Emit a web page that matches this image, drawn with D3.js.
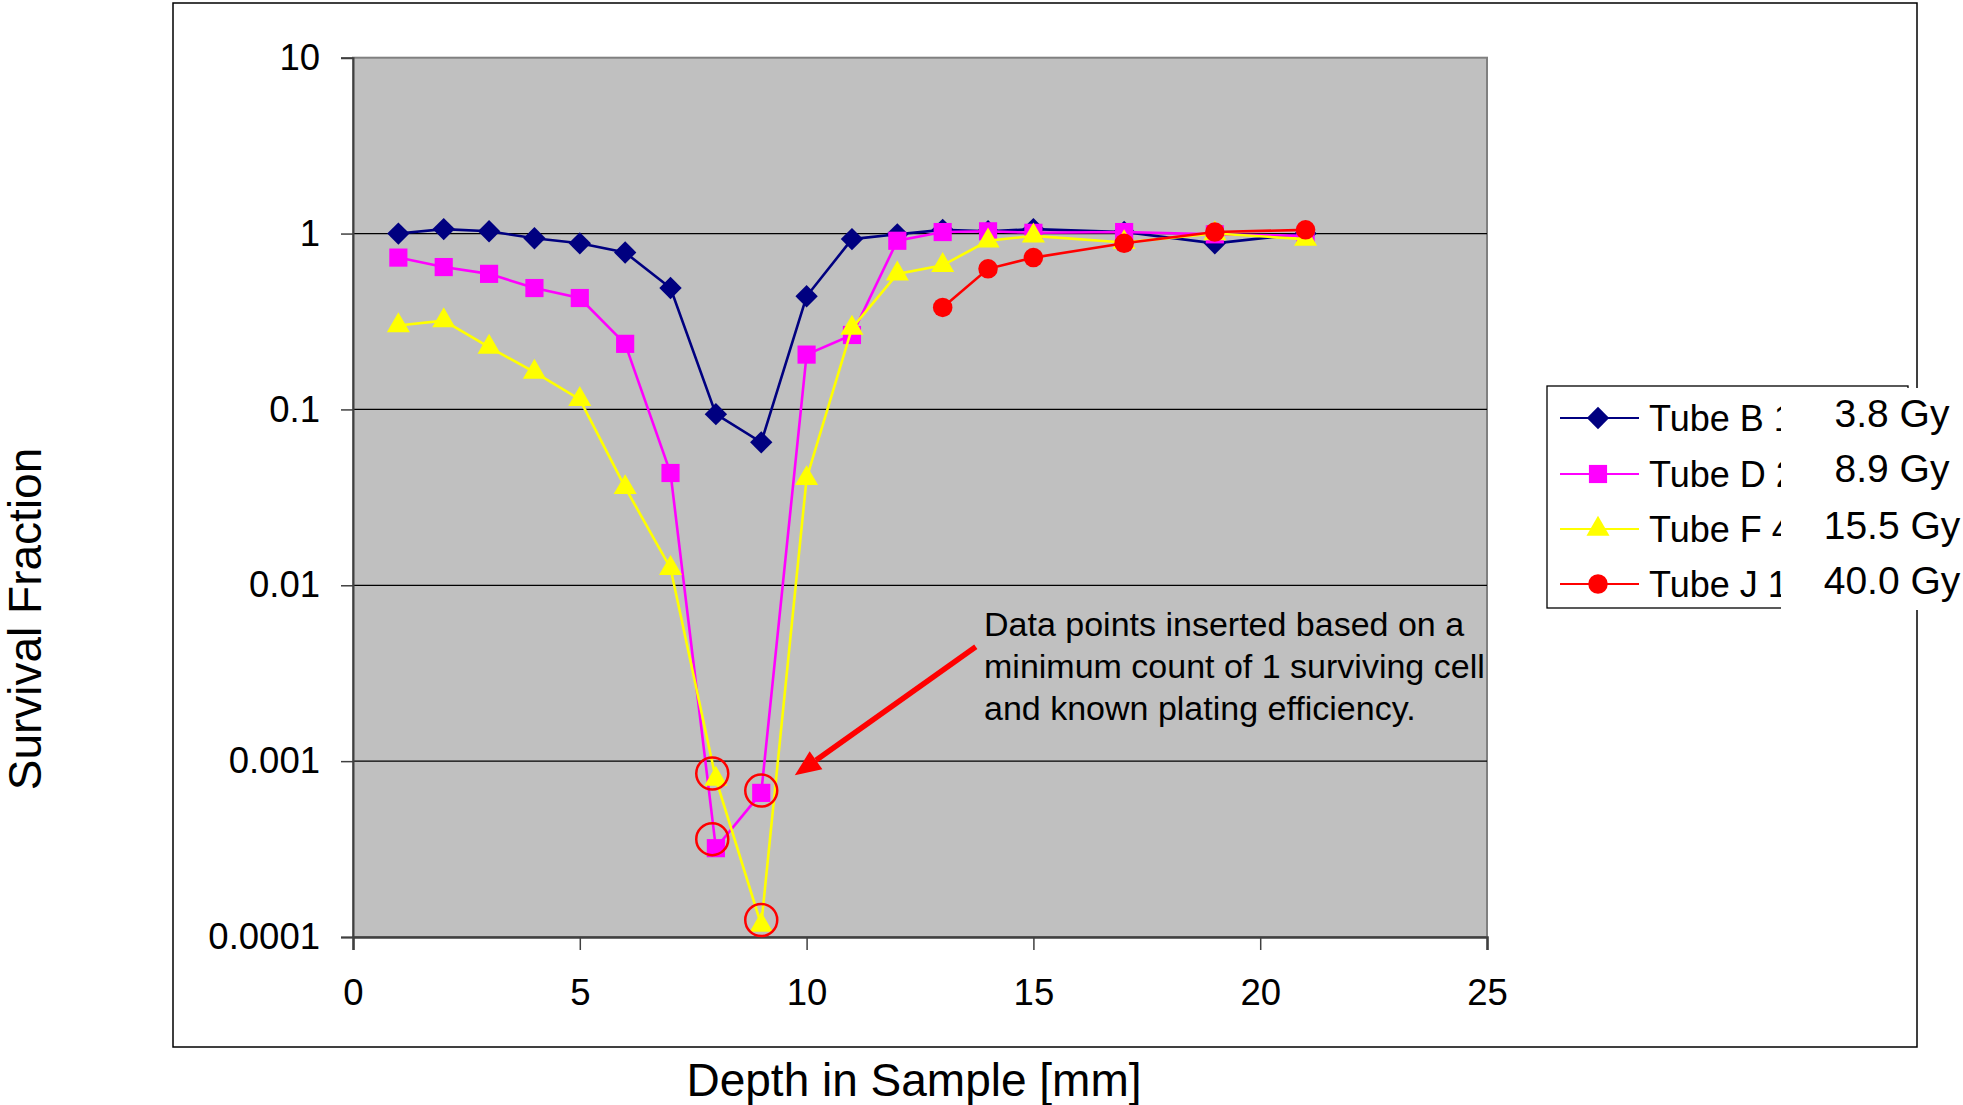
<!DOCTYPE html>
<html>
<head>
<meta charset="utf-8">
<script src="https://cdn.jsdelivr.net/npm/d3@7"></script>
<style>
  body { margin: 0; background: #fff; }
  text { font-family: "Liberation Sans", Arial, sans-serif; fill: #000; }
</style>
</head>
<body>
<script>
// depths (mm) and survival fractions
var depths = [1, 2, 3, 4, 5, 6, 7, 8, 9, 10, 11, 12, 13, 14, 15, 17, 19, 21];
var tubeB = [1.0, 1.06, 1.03, 0.94, 0.88, 0.78, 0.49, 0.094, 0.065, 0.44, 0.93, 0.99, 1.05, 1.03, 1.06, 1.02, 0.88, 1.0];
var tubeD = [0.73, 0.645, 0.59, 0.49, 0.43, 0.236, 0.0435, 0.00032, 0.00066, 0.205, 0.265, 0.91, 1.02, 1.03, 1.01, 1.02, 0.99, 0.97];
var tubeF = [0.30, 0.32, 0.226, 0.163, 0.114, 0.036, 0.0125, 0.00079, 0.000117, 0.0405, 0.29, 0.59, 0.66, 0.91, 0.97, 0.89, 1.0, 0.93];
var depthsJ = [13, 14, 15, 17, 19, 21];
var tubeJ = [0.38, 0.63, 0.73, 0.88, 1.02, 1.05];

var seriesNames = ["Tube B 1", "Tube D 2", "Tube F 4", "Tube J 1"];
var doseLabels = ["3.8 Gy", "8.9 Gy", "15.5 Gy", "40.0 Gy"];
var colors = ["#000080", "#ff00ff", "#ffff00", "#ff0000"];

var xTicks = [0, 5, 10, 15, 20, 25];
var yTicks = [0.0001, 0.001, 0.01, 0.1, 1, 10];
var yTickLabels = ["0.0001", "0.001", "0.01", "0.1", "1", "10"];

// points flagged as inserted (minimum count of 1 surviving cell)
var insertedX = [7.92, 7.92, 9, 9];
var insertedY = [0.00036, 0.00085, 0.00068, 0.000125];

var series = [
  { name: seriesNames[0], x: depths, y: tubeB },
  { name: seriesNames[1], x: depths, y: tubeD },
  { name: seriesNames[2], x: depths, y: tubeF },
  { name: seriesNames[3], x: depthsJ, y: tubeJ }
];

var W = 1963, H = 1105;
var pLeft = 353, pRight = 1487, pTop = 57.7, pBottom = 937;

// marker shapes: diamond = rotated square
var markers = [
  { type: d3.symbolSquare, size: 250, rot: 45 },
  { type: d3.symbolSquare, size: 330, rot: 0 },
  { type: d3.symbolTriangle, size: 230, rot: 0 },
  { type: d3.symbolCircle, size: 300, rot: 0 }
];

var svg = d3.select("body").append("svg")
  .attr("width", W)
  .attr("height", H);

var x = d3.scaleLinear().domain([0, 25]).range([pLeft, pRight]);
var y = d3.scaleLog().domain([0.0001, 10]).range([pBottom, pTop]);

// outer chart border
svg.append("rect")
  .attr("x", 173).attr("y", 3)
  .attr("width", 1917 - 173).attr("height", 1047 - 3)
  .attr("fill", "none").attr("stroke", "#000").attr("stroke-width", 1.5);

// plot area
svg.append("rect")
  .attr("x", pLeft).attr("y", pTop)
  .attr("width", pRight - pLeft).attr("height", pBottom - pTop)
  .attr("fill", "#c0c0c0").attr("stroke", "#808080").attr("stroke-width", 2);

svg.append("clipPath").attr("id", "plotclip")
  .append("rect")
  .attr("x", pLeft).attr("y", pTop)
  .attr("width", pRight - pLeft).attr("height", pBottom - pTop);

// gridlines
svg.append("g").selectAll("line")
  .data(yTicks.slice(1, 5))
  .enter().append("line")
  .attr("x1", pLeft).attr("x2", pRight)
  .attr("y1", function(d) { return y(d); })
  .attr("y2", function(d) { return y(d); })
  .attr("stroke", "#000").attr("stroke-width", 1.3);

// y axis
var yAxis = svg.append("g")
  .attr("transform", "translate(" + pLeft + ",0)")
  .call(d3.axisLeft(y).tickValues(yTicks).tickSize(12).tickPadding(21)
    .tickFormat(function(d, i) { return yTickLabels[i]; }));
yAxis.select(".domain").attr("stroke", "#404040").attr("stroke-width", 2);
yAxis.selectAll(".tick line").attr("stroke", "#404040").attr("stroke-width", 1.5);
yAxis.selectAll("text").style("font-size", "36.5px").attr("fill", "#000");

// x axis
var xAxis = svg.append("g")
  .attr("transform", "translate(0," + pBottom + ")")
  .call(d3.axisBottom(x).tickValues(xTicks).tickSize(13).tickPadding(29)
    .tickFormat(d3.format("d")));
xAxis.select(".domain").attr("stroke", "#404040").attr("stroke-width", 2.5);
xAxis.selectAll(".tick line").attr("stroke", "#404040").attr("stroke-width", 1.5);
xAxis.selectAll("text").style("font-size", "36.5px").attr("fill", "#000");

// series lines and markers
var line = d3.line()
  .x(function(d) { return x(d[0]); })
  .y(function(d) { return y(d[1]); });

function markerPath(i) {
  return d3.symbol().type(markers[i].type).size(markers[i].size)();
}

series.forEach(function(s, i) {
  var pts = s.x.map(function(v, j) { return [v, s.y[j]]; });
  var g = svg.append("g");
  g.append("path")
    .attr("d", line(pts))
    .attr("fill", "none")
    .attr("stroke", colors[i])
    .attr("stroke-width", 2.6);
  g.selectAll("path.m")
    .data(pts)
    .enter().append("path")
    .attr("class", "m")
    .attr("transform", function(d) {
      return "translate(" + x(d[0]) + "," + y(d[1]) + ") rotate(" + markers[i].rot + ")";
    })
    .attr("d", markerPath(i))
    .attr("fill", colors[i]);
});

// red rings around the inserted points
svg.append("g").selectAll("circle")
  .data(insertedX)
  .enter().append("circle")
  .attr("cx", function(d) { return x(d); })
  .attr("cy", function(d, i) { return y(insertedY[i]); })
  .attr("r", 16)
  .attr("fill", "none")
  .attr("stroke", "#ff0000")
  .attr("stroke-width", 2.5);

// annotation text (clipped by plot area like the original)
var note = svg.append("g").attr("clip-path", "url(#plotclip)");
var noteLines = ["Data points inserted based on a", "minimum count of 1 surviving cell", "and known plating efficiency."];
note.selectAll("text")
  .data(noteLines)
  .enter().append("text")
  .attr("x", 984)
  .attr("y", function(d, i) { return 636 + i * 42; })
  .style("font-size", "34px")
  .text(function(d) { return d; });

// arrow
var ax1 = x(13.73), ay1 = y(0.00447), ax2 = x(9.74), ay2 = y(0.00083);
var ang = Math.atan2(ay2 - ay1, ax2 - ax1);
var headLen = 26, headW = 11;
var bx = ax2 - headLen * Math.cos(ang), by = ay2 - headLen * Math.sin(ang);
svg.append("line")
  .attr("x1", ax1).attr("y1", ay1)
  .attr("x2", bx).attr("y2", by)
  .attr("stroke", "#ff0000").attr("stroke-width", 5.5);
svg.append("path")
  .attr("d", "M" + ax2 + "," + ay2 +
    "L" + (bx + headW * Math.sin(ang)) + "," + (by - headW * Math.cos(ang)) +
    "L" + (bx - headW * Math.sin(ang)) + "," + (by + headW * Math.cos(ang)) + "Z")
  .attr("fill", "#ff0000");

// axis titles
svg.append("text")
  .attr("x", 914).attr("y", 1096)
  .attr("text-anchor", "middle")
  .style("font-size", "46px")
  .text("Depth in Sample [mm]");

svg.append("text")
  .attr("transform", "translate(41,619) rotate(-90)")
  .attr("text-anchor", "middle")
  .style("font-size", "46px")
  .text("Survival Fraction");

// legend
var legend = svg.append("g");
legend.append("rect")
  .attr("x", 1547).attr("y", 386)
  .attr("width", 1908 - 1547).attr("height", 608 - 386)
  .attr("fill", "#fff").attr("stroke", "#000").attr("stroke-width", 1.3);

var rowY = [418, 474, 529, 584];
seriesNames.forEach(function(name, i) {
  legend.append("line")
    .attr("x1", 1560).attr("x2", 1639)
    .attr("y1", rowY[i]).attr("y2", rowY[i])
    .attr("stroke", colors[i]).attr("stroke-width", 2);
  legend.append("path")
    .attr("transform", "translate(1598," + rowY[i] + ") rotate(" + markers[i].rot + ")")
    .attr("d", markerPath(i))
    .attr("fill", colors[i]);
  legend.append("text")
    .attr("x", 1649).attr("y", rowY[i] + 13)
    .style("font-size", "36px")
    .text(name);
});

// white box with the dose labels, laid over the legend's right part
svg.append("rect")
  .attr("x", 1781).attr("y", 388)
  .attr("width", W - 1781).attr("height", 222)
  .attr("fill", "#fff");

var doseY = [413, 468, 525, 580];
svg.append("g").selectAll("text")
  .data(doseLabels)
  .enter().append("text")
  .attr("x", 1892)
  .attr("y", function(d, i) { return doseY[i] + 14; })
  .attr("text-anchor", "middle")
  .style("font-size", "39px")
  .text(function(d) { return d; });
</script>
</body>
</html>
